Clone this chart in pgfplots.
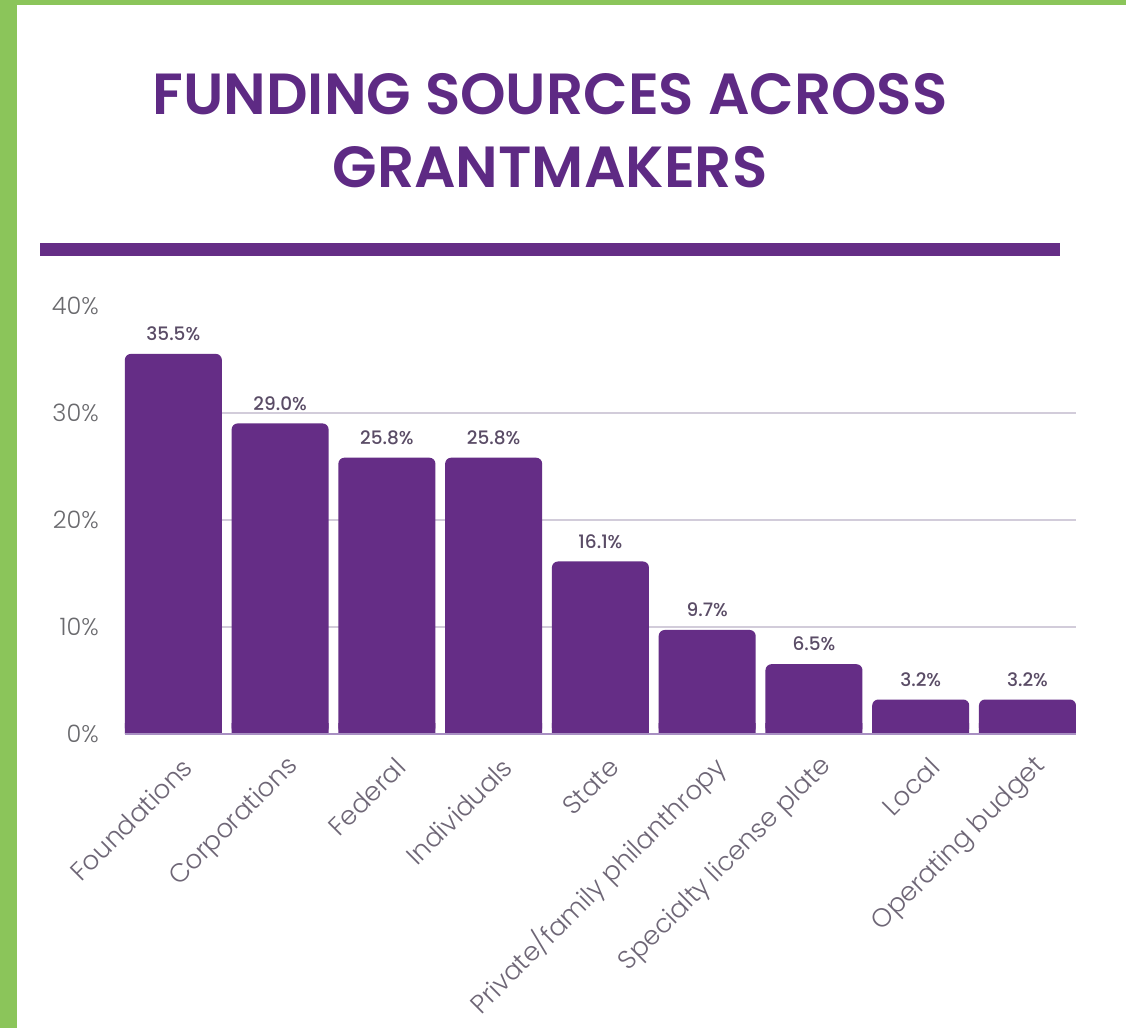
\documentclass[border=0pt]{standalone}
\usepackage{fontspec}
\setmainfont{Poppins}
\newfontfamily\lightfont{Poppins Light}
\newfontfamily\semifont{Poppins SemiBold}
\newfontfamily\medfont{Poppins Medium}
\usepackage{pgfplots}
\pgfplotsset{compat=1.18}
\usepackage{pgfplotstable}
\definecolor{bgreen}{HTML}{8BC55A}
\definecolor{bpurple}{HTML}{652D86}
\definecolor{tpurple}{HTML}{5E2A84}
\definecolor{tickgrey}{HTML}{6A6A6E}
\definecolor{xgrey}{HTML}{6E6676}
\definecolor{valgrey}{HTML}{5A4C66}
\definecolor{gridc}{HTML}{D2CCDA}
\definecolor{basec}{HTML}{A88FC2}

\pgfplotstableread{
x v
0 35.5
1 29.0
2 25.8
3 25.8
4 16.1
5 9.7
6 6.5
7 3.2
8 3.2
}\datatable

\begin{document}
\begin{tikzpicture}[x=1pt,y=1pt]
\fill[bgreen] (0,0) rectangle (1126,1028);
\fill[white] (17,0) rectangle (1126,1023);
\node[tpurple, anchor=base, inner sep=0pt, font=\fontsize{58}{58}\semifont] at (550,913) {FUNDING SOURCES ACROSS};
\node[tpurple, anchor=base, inner sep=0pt, font=\fontsize{58}{58}\semifont] at (550,840) {GRANTMAKERS};
\draw[bpurple, line width=13pt] (40,778.5) -- (1060,778.5);
\begin{axis}[
  at={(117,275)}, anchor=south west,
  scale only axis, width=951pt, height=428pt,
  xmin=-0.4537, xmax=8.4537, ymin=0, ymax=40,
  axis line style={draw=none},
  major tick length=0pt,
  /pgf/number format/assume math mode=true,
  ytick={10,20,30},
  extra y ticks={0,40},
  extra y tick style={grid=none},
  ymajorgrids,
  grid style={gridc, line width=1.5pt},
  yticklabel={\pgfmathprintnumber{\tick}\%},
  xtick={0,...,8},
  xticklabels={Foundations,Corporations,Federal,Individuals,State,Private/family philanthropy,Specialty license plate,Local,Operating budget},
  yticklabel style={inner sep=0pt, anchor=east, xshift=-26pt, font=\fontsize{24}{24}\lightfont, color=tickgrey},
  xticklabel style={inner sep=0pt, xshift=14pt, yshift=-29pt, rotate=45, anchor=east, font=\fontsize{26}{26}\lightfont, color=xgrey},
  clip=false,
]
\addplot[ybar, bar width=97pt, bar shift=0pt, fill=bpurple, draw=none, rounded corners=6pt,
  nodes near coords={\pgfmathprintnumber[fixed,fixed zerofill,precision=1]{\pgfplotspointmeta}\%},
  nodes near coords style={font=\fontsize{18.5}{18.5}\medfont, color=valgrey, anchor=south, inner sep=0pt, yshift=13pt}]
  table[x=x,y=v] {\datatable};
\addplot[ybar, bar width=97pt, bar shift=0pt, fill=bpurple, draw=none]
  table[x=x,y expr=1] {\datatable};
\draw[basec, line width=2pt] (axis cs:-0.4537,0) -- (axis cs:8.4537,0);
\end{axis}
\end{tikzpicture}
\end{document}
